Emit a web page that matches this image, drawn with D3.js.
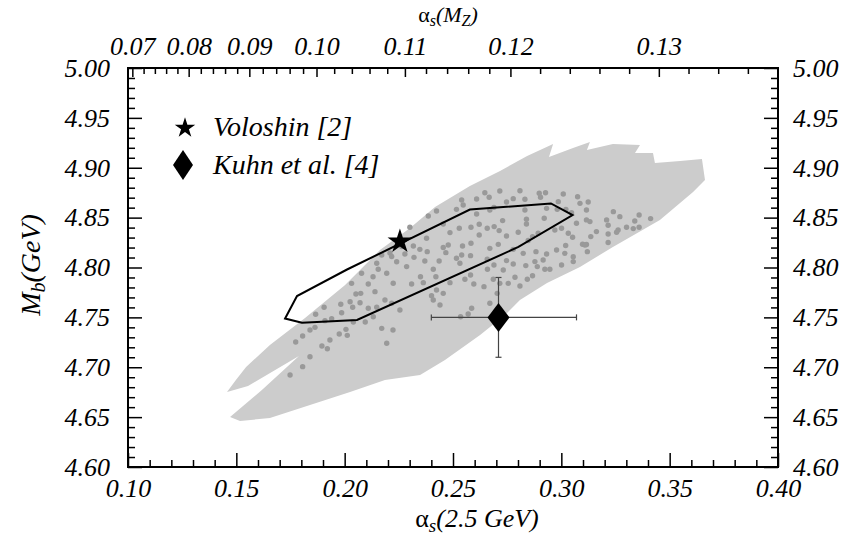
<!DOCTYPE html>
<html><head><meta charset="utf-8">
<script src="https://cdn.jsdelivr.net/npm/d3@7"></script>
<style>
body{margin:0;background:#fff}
text{font-family:"Liberation Serif","Times New Roman",serif;font-style:italic;fill:#000}
</style>
</head><body>
<svg id="c" width="846" height="538"></svg>
<script>
// ---- data ----
const xTicks = [0.10,0.15,0.20,0.25,0.30,0.35,0.40];
const yTicks = [4.60,4.65,4.70,4.75,4.80,4.85,4.90,4.95,5.00];
const topTickLabels = [0.07,0.08,0.09,0.10,0.11,0.12,0.13];
// alpha_s(2.5 GeV) equivalents of the top-axis alpha_s(M_Z) labels
const topTickAt25 = [0.1020,0.1280,0.1560,0.1870,0.2278,0.2765,0.3450];
// light-grey allowed region outline [alpha_s(2.5), M_b]
const band = [
[0.1471,4.6501],[0.1618,4.6772],[0.1789,4.7113],[0.1554,4.6812],[0.1457,4.6752],
[0.1498,4.6872],[0.1545,4.7003],[0.1655,4.7223],[0.1817,4.7494],[0.2002,4.7825],
[0.2163,4.8175],[0.2302,4.8396],[0.2417,4.8607],[0.2578,4.8817],[0.2717,4.8967],
[0.2842,4.9118],[0.2962,4.9238],[0.2943,4.9108],[0.3054,4.9198],[0.3132,4.9258],
[0.3118,4.9178],[0.3238,4.9238],[0.3363,4.9228],[0.3340,4.9148],[0.3423,4.9148],
[0.3432,4.9048],[0.3548,4.9068],[0.3649,4.9088],[0.3663,4.8877],[0.3608,4.8757],
[0.3455,4.8476],[0.3238,4.8206],[0.3086,4.8005],[0.2934,4.7845],[0.2809,4.7674],
[0.2740,4.7524],[0.2625,4.7323],[0.2463,4.7073],[0.2348,4.6922],[0.2186,4.6872],
[0.2025,4.6752],[0.1840,4.6622],[0.1655,4.6491],[0.1517,4.6461]
];
// black contour
const contour = [
[0.1725,4.7489],[0.1780,4.7714],[0.2011,4.7980],[0.2578,4.8581],[0.2952,4.8642],
[0.3052,4.8526],[0.2802,4.8206],[0.2057,4.7474],[0.1803,4.7447]
];
// scan points
const scanAlpha = [
0.2647,0.2716,0.2809,0.2898,0.2927,0.3009,0.3075,0.2609,0.2667,0.2778,0.2832,0.2904,0.2986,0.3086,0.3124,0.2540,
0.2424,0.2386,0.2516,0.2547,0.2609,0.2670,0.2689,0.2747,0.2729,0.2832,0.2839,0.2932,0.2921,0.2981,0.3021,0.3047,
0.3116,0.3116,0.3132,0.3070,0.3209,0.3240,0.3270,0.3339,0.3359,0.3412,0.3301,0.3332,0.3359,0.3262,0.3216,0.3162,
0.2301,0.2378,0.2455,0.2486,0.2529,0.2583,0.2621,0.2658,0.2690,0.2713,0.2747,0.2801,0.2839,0.2847,0.2867,0.2893,
0.2970,0.3001,0.3032,0.3052,0.3136,0.3098,0.3116,0.3216,0.3255,0.3216,0.2263,0.2317,0.2347,0.2381,0.2455,0.2478,
0.2544,0.2583,0.2621,0.2670,0.2709,0.2778,0.2824,0.2883,0.2932,0.2978,0.3020,0.3016,0.3055,0.3109,0.3120,0.2278,
0.2320,0.2370,0.2409,0.2436,0.2467,0.2516,0.2540,0.2532,0.2581,0.2658,0.2689,0.2659,0.2581,0.2747,0.2778,0.2836,
0.2878,0.2889,0.2924,0.2916,0.2947,0.3001,0.3055,0.2286,0.2309,0.2350,0.2363,0.2421,0.2424,0.2486,0.2455,0.2555,
0.2596,0.2643,0.2686,0.2716,0.2732,0.2755,0.2786,0.2809,0.2843,0.2867,0.2401,0.2409,0.2440,0.2570,0.2535,0.2586,
0.2670,0.2704,
0.2078,0.2032,0.2109,0.2140,0.2148,0.2155,0.2052,0.2074,0.2071,0.2025,0.2037,0.1982,0.1986,0.2109,0.2148,0.1905,
0.1866,0.1909,0.1940,0.2040,0.2095,0.1863,0.1840,0.1806,0.1774,0.1975,0.2012,0.2006,0.1932,0.1920,0.1895,0.1840,
0.1806,0.1748,
0.2209,0.2217,0.2240,0.2171,0.2194,0.2131,0.2224,0.2217,0.2186,0.2255,0.2132,0.2171,0.2223,0.2194
];
const scanMass = [
4.8750,4.8767,4.8770,4.8744,4.8750,4.8737,4.8710,4.8687,4.8704,4.8690,4.8684,4.8704,4.8660,4.8643,4.8657,4.8677,
4.8567,4.8517,4.8583,4.8627,4.8537,4.8577,4.8603,4.8657,4.8470,4.8577,4.8483,4.8593,4.8493,4.8583,4.8583,4.8550,
4.8577,4.8477,4.8460,4.8443,4.8477,4.8560,4.8510,4.8466,4.8527,4.8490,4.8403,4.8390,4.8403,4.8376,4.8423,4.8360,
4.8403,4.8293,4.8436,4.8350,4.8393,4.8403,4.8433,4.8393,4.8410,4.8370,4.8316,4.8353,4.8436,4.8270,4.8310,4.8343,
4.8376,4.8393,4.8343,4.8303,4.8310,4.8233,4.8230,4.8336,4.8353,4.8250,4.8210,4.8216,4.8182,4.8159,4.8200,4.8226,
4.8216,4.8243,4.8326,4.8192,4.8232,4.8182,4.8142,4.8159,4.8136,4.8176,4.8220,4.8142,4.8109,4.8226,4.8159,4.8136,
4.8102,4.8065,4.7982,4.8065,4.8149,4.8092,4.8126,4.8042,4.8119,4.8082,4.8025,4.7982,4.7925,4.8069,4.8035,4.8019,
4.8059,4.8009,4.7982,4.8075,4.7982,4.8025,4.8059,4.8009,4.7835,4.7908,4.7848,4.7908,4.7775,4.7848,4.7741,4.7882,
4.7835,4.7808,4.7882,4.7841,4.7975,4.7841,4.7902,4.7815,4.7882,4.7918,4.7718,4.7674,4.7624,4.7534,4.7507,4.7591,
4.7641,4.7741,
4.7942,4.7841,4.7835,4.7758,4.8042,4.7982,4.7734,4.7741,4.7647,4.7657,4.7601,4.7631,4.7547,4.7591,4.7601,4.7601,
4.7531,4.7467,4.7487,4.7454,4.7454,4.7400,4.7374,4.7313,4.7253,4.7333,4.7320,4.7380,4.7273,4.7186,4.7213,4.7106,
4.7006,4.6922,
4.8145,4.8111,4.8058,4.8125,4.7942,4.7908,4.7842,4.7641,4.7674,4.7574,4.7507,4.7390,4.7373,4.7240
];
const voloshin = {alpha:0.2255, mass:4.826};
const kuhn = {alpha:0.271, mass:4.750, alphaLo:0.240, alphaHi:0.307, massLo:4.710, massHi:4.790};
const legendItems = ["Voloshin [2]","Kuhn et al. [4]"];

// ---- layout ----
const L=128, R=778, T=68, B=467;
const svg = d3.select("#c");
const x = d3.scaleLinear().domain([0.10,0.40]).range([L,R]);
const y = d3.scaleLinear().domain([4.60,5.00]).range([B,T]);
// alpha_s(M_Z) -> pixel via piecewise-linear map onto alpha_s(2.5 GeV)
const xTop = d3.scaleLinear().domain(topTickLabels).range(topTickAt25.map(v=>x(v)));

const FS = 26;

// grey region
svg.append("path")
  .attr("d", d3.line().x(d=>x(d[0])).y(d=>y(d[1])).curve(d3.curveLinearClosed)(band))
  .attr("fill","#cccccc");

// scan dots
svg.append("g").selectAll("circle").data(d3.range(scanAlpha.length)).join("circle")
  .attr("cx",i=>x(scanAlpha[i])).attr("cy",i=>y(scanMass[i])).attr("r",2.7).attr("fill","#999999");

// contour
svg.append("path")
  .attr("d", d3.line().x(d=>x(d[0])).y(d=>y(d[1])).curve(d3.curveLinearClosed)(contour))
  .attr("fill","none").attr("stroke","#000").attr("stroke-width",2).attr("stroke-linejoin","miter");

// Kuhn error bars
const eb = svg.append("g").attr("stroke","#444").attr("stroke-width",1.2);
eb.append("line").attr("x1",x(kuhn.alphaLo)).attr("x2",x(kuhn.alphaHi)).attr("y1",y(kuhn.mass)).attr("y2",y(kuhn.mass));
eb.append("line").attr("x1",x(kuhn.alpha)).attr("x2",x(kuhn.alpha)).attr("y1",y(kuhn.massLo)).attr("y2",y(kuhn.massHi));
[kuhn.alphaLo,kuhn.alphaHi].forEach(a=>eb.append("line").attr("x1",x(a)).attr("x2",x(a)).attr("y1",y(kuhn.mass)-3).attr("y2",y(kuhn.mass)+3));
[kuhn.massLo,kuhn.massHi].forEach(m=>eb.append("line").attr("x1",x(kuhn.alpha)-3).attr("x2",x(kuhn.alpha)+3).attr("y1",y(m)).attr("y2",y(m)));

const diamond = (cx,cy,hw,hh)=>`M${cx},${cy-hh}L${cx+hw},${cy}L${cx},${cy+hh}L${cx-hw},${cy}Z`;
svg.append("path").attr("d",diamond(x(kuhn.alpha),y(kuhn.mass),11,14.5)).attr("fill","#000");
svg.append("path").attr("d",d3.symbol(d3.symbolStar,190)()).attr("transform",`translate(${x(voloshin.alpha)},${y(voloshin.mass)})`).attr("fill","#000");

// legend
svg.append("path").attr("d",d3.symbol(d3.symbolStar,130)()).attr("transform","translate(185,128)").attr("fill","#000");
svg.append("path").attr("d",diamond(183,165,10,15)).attr("fill","#000");
svg.append("text").attr("x",213).attr("y",136).attr("font-size",28).text(legendItems[0]);
svg.append("text").attr("x",213).attr("y",174).attr("font-size",28).text(legendItems[1]);

// axes
const fmt = d3.format(".2f");
const minorX = d3.range(10,41).map(v=>v/100).filter(v=>Math.round(v*100)%5!==0);
const minorY = d3.range(460,501).map(v=>v/100).filter(v=>Math.round(v*100)%5!==0);
function styleAxis(g){ g.select(".domain").remove(); g.selectAll("line").attr("stroke","#000").attr("stroke-width",1.5);
  g.selectAll("text").attr("font-size",FS).attr("font-family",null); }
// bottom
svg.append("g").attr("transform",`translate(0,${B})`).call(d3.axisBottom(x).tickValues(xTicks).tickFormat(fmt).tickSizeInner(-14).tickSizeOuter(0).tickPadding(12)).call(styleAxis);
svg.append("g").attr("transform",`translate(0,${B})`).call(d3.axisBottom(x).tickValues(minorX).tickFormat("").tickSizeInner(-7).tickSizeOuter(0)).call(styleAxis);
// left
svg.append("g").attr("transform",`translate(${L},0)`).call(d3.axisLeft(y).tickValues(yTicks).tickFormat(fmt).tickSizeInner(-14).tickSizeOuter(0).tickPadding(18)).call(styleAxis);
svg.append("g").attr("transform",`translate(${L},0)`).call(d3.axisLeft(y).tickValues(minorY).tickFormat("").tickSizeInner(-7).tickSizeOuter(0)).call(styleAxis);
// right
svg.append("g").attr("transform",`translate(${R},0)`).call(d3.axisRight(y).tickValues(yTicks).tickFormat(fmt).tickSizeInner(-14).tickSizeOuter(0).tickPadding(15)).call(styleAxis);
svg.append("g").attr("transform",`translate(${R},0)`).call(d3.axisRight(y).tickValues(minorY).tickFormat("").tickSizeInner(-7).tickSizeOuter(0)).call(styleAxis);
// top (alpha_s(M_Z))
const topMinor = d3.range(70,137,2).map(v=>v/1000).filter(v=>x.invert(xTop(v))<=0.40 && !topTickLabels.some(t=>Math.abs(t-v)<1e-6));
svg.append("g").attr("transform",`translate(0,${T})`).call(d3.axisTop(xTop).tickValues(topTickLabels).tickFormat(fmt).tickSizeInner(-9).tickSizeOuter(0).tickPadding(13)).call(styleAxis);
svg.append("g").attr("transform",`translate(0,${T})`).call(d3.axisTop(xTop).tickValues(topMinor).tickFormat("").tickSizeInner(-6).tickSizeOuter(0)).call(styleAxis);

// frame
svg.append("rect").attr("x",L).attr("y",T).attr("width",R-L).attr("height",B-T).attr("fill","none").attr("stroke","#000").attr("stroke-width",2);

// axis titles
const tb = svg.append("text").attr("x",477).attr("y",527).attr("text-anchor","middle").attr("font-size",26);
tb.append("tspan").text("α").attr("font-style","normal");
tb.append("tspan").text("s").attr("font-size",19).attr("dy",5);
tb.append("tspan").text("(2.5 GeV)").attr("dy",-5);
const tt = svg.append("text").attr("x",448).attr("y",22).attr("text-anchor","middle").attr("font-size",22);
tt.append("tspan").text("α").attr("font-style","normal");
tt.append("tspan").text("s").attr("font-size",16).attr("dy",4);
tt.append("tspan").text("(M").attr("dy",-4);
tt.append("tspan").text("Z").attr("font-size",16).attr("dy",4);
tt.append("tspan").text(")").attr("dy",-4);
const ty = svg.append("text").attr("transform","translate(40,265) rotate(-90)").attr("text-anchor","middle").attr("font-size",28);
ty.append("tspan").text("M");
ty.append("tspan").text("b").attr("font-size",20).attr("dy",5);
ty.append("tspan").text("(GeV)").attr("dy",-5);
</script>
</body></html>
